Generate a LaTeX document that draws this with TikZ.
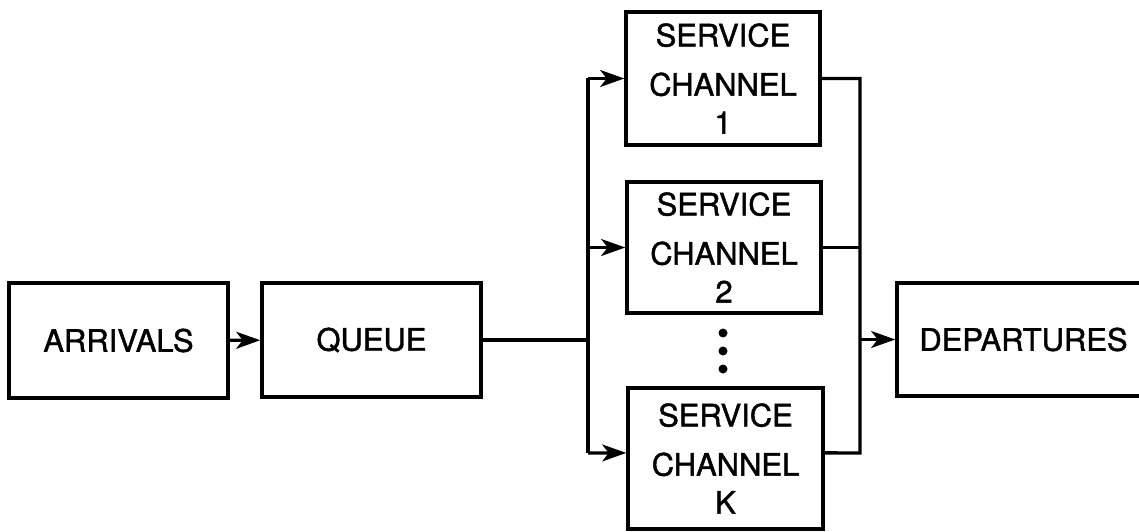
\documentclass[tikz,border=0pt]{standalone}
\usepackage{fontspec}
\setmainfont[UprightFeatures={FakeBold=1.4}]{TeX Gyre Heros}
\usetikzlibrary{arrows.meta}
\begin{document}
\begin{tikzpicture}[x=0.025cm, y=-0.025cm, >={Stealth[length=6mm,width=4.2mm,inset=1.6mm]},
    line width=2.4pt, font=\fontsize{22}{27}\selectfont]
        \tikzset{blk/.style={draw, line width=2.4pt, inner sep=0pt, align=center}}
        \clip (0,0) rectangle (1139,532);
        % boxes, sizes given in cm
        \node[blk, minimum width=5.475cm, minimum height=2.875cm] (arr) at (118.5,340.5) {ARRIVALS};
        \node[blk, minimum width=5.475cm, minimum height=2.85cm] (que) at (371.5,340) {QUEUE};
        \node[blk, minimum width=4.85cm, minimum height=3.325cm] (ch1) at (723,78.5) {SERVICE\\[8pt]CHANNEL\\1};
        \node[blk, minimum width=4.85cm, minimum height=3.275cm] (ch2) at (724,247.5) {SERVICE\\[8pt]CHANNEL\\2};
        \node[blk, minimum width=4.875cm, minimum height=3.525cm] (chK) at (725.5,458.5) {SERVICE\\[8pt]CHANNEL\\K};
        \node[blk, minimum width=6.325cm, minimum height=2.825cm] (dep) at (1023.5,339.5) {DEPARTURES};
        % split and merge lines
        \coordinate (ltop) at (588,78.5);
        \coordinate (lbot) at (588,453);
        \coordinate (rtop) at (860,78.5);
        \coordinate (rbot) at (860,453);
        \draw[->] (arr) -- (que);
        \draw (que.east) -- (que.east -| ltop);
        \draw (ltop) -- (lbot);
        \draw[->] (ltop) -- (ch1.west);
        \draw[->] (ch2.west -| ltop) -- (ch2.west);
        \draw[->] (lbot) -- ([yshift=0.14cm]chK.west);
        \draw (ch1.east) -- (rtop) -- (rbot) -- ([yshift=0.14cm]chK.east);
        \draw (ch2.east) -- (ch2.east -| rtop);
        \draw[->] (dep.west -| rtop) -- (dep.west);
        % the dots between channel 2 and K
        \foreach \y in {333,351,369}
            \fill (723,\y) circle (4.5);
    \end{tikzpicture}
\end{document}
